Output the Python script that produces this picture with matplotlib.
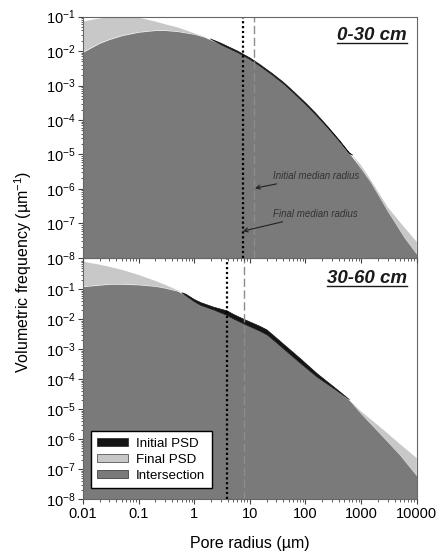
import numpy as np
import matplotlib
matplotlib.use("Agg")
import matplotlib.pyplot as plt
from matplotlib.patches import Patch
from matplotlib.lines import Line2D
from matplotlib.ticker import LogLocator, NullFormatter

plt.rcParams['font.family'] = ['Liberation Sans', 'DejaVu Sans']
plt.rcParams['mathtext.default'] = 'regular'

# pore radius (um) and log10 volumetric frequency
r_top = [0.01, 0.02, 0.03, 0.05, 0.1, 0.2, 0.3, 0.5, 1, 1.5, 3, 6, 10, 15, 25,
         40, 60, 100, 150, 250, 400, 600, 1000, 1500, 3000, 6000, 10000]
ini_top = [-2.03, -1.77, -1.66, -1.55, -1.45, -1.40, -1.40, -1.43, -1.51, -1.59,
           -1.76, -1.99, -2.19, -2.38, -2.64, -2.90, -3.16, -3.50, -3.79, -4.19,
           -4.58, -4.94, -5.42, -5.82, -6.65, -7.42, -7.90]
fin_top = [-1.14, -1.05, -1.02, -1.01, -1.03, -1.14, -1.22, -1.31, -1.48, -1.58,
           -1.80, -2.03, -2.23, -2.42, -2.68, -2.94, -3.20, -3.54, -3.83, -4.22,
           -4.60, -4.95, -5.32, -5.75, -6.53, -7.12, -7.54]

r_bot = [0.01, 0.02, 0.03, 0.05, 0.1, 0.2, 0.3, 0.5, 0.7, 1, 1.3, 2.2, 3.8, 5, 8,
         15, 20, 30, 40, 80, 160, 360, 630, 1000, 2500, 5000, 10000]
ini_bot = [-0.91, -0.86, -0.83, -0.83, -0.85, -0.90, -0.96, -1.06, -1.15, -1.33,
           -1.43, -1.58, -1.70, -1.82, -2.00, -2.22, -2.34, -2.62, -2.82, -3.30,
           -3.80, -4.32, -4.72, -5.15, -5.93, -6.53, -7.22]
fin_bot = [-0.08, -0.18, -0.25, -0.35, -0.52, -0.72, -0.85, -1.03, -1.20, -1.40,
           -1.52, -1.67, -1.85, -1.97, -2.15, -2.38, -2.50, -2.77, -2.97, -3.45,
           -3.91, -4.36, -4.71, -5.07, -5.68, -6.16, -6.63]

# median radii (um): initial, final
med_top = (12.1, 7.5)
med_bot = (7.8, 3.9)
depths = ['0-30 cm', '30-60 cm']

C_INI = '#141414'
C_FIN = '#c8c8c8'
C_INT = '#7a7a7a'


def draw_panel(ax, r, ini, fin, med, ylim):
    r = np.array(r)
    yi = 10 ** np.array(ini)
    yf = 10 ** np.array(fin)
    lo = np.minimum(yi, yf)
    ax.fill_between(r, 1e-12, lo, color=C_INT, lw=0)
    ax.fill_between(r, yf, yi, where=yi >= yf, interpolate=True, color=C_INI, lw=0.5,
                    edgecolor=C_INI)
    ax.fill_between(r, yi, yf, where=yf >= yi, interpolate=True, color=C_FIN, lw=0)
    ax.axvline(med[0], color='#8c8c8c', lw=1.0, ls=(0, (6, 2.5)))
    ax.axvline(med[1], color='black', lw=1.6, ls=(0, (1, 1.2)))
    ax.set_xscale('log')
    ax.set_yscale('log')
    ax.set_xlim(0.01, 10000)
    ax.set_yticks([10.0 ** k for k in range(-8, 0)])
    ax.yaxis.set_minor_locator(LogLocator(base=10, subs=np.arange(2, 10), numticks=20))
    ax.yaxis.set_minor_formatter(NullFormatter())
    ax.xaxis.set_minor_locator(LogLocator(base=10, subs=np.arange(2, 10), numticks=20))
    ax.xaxis.set_minor_formatter(NullFormatter())
    ax.set_ylim(*ylim)
    ax.tick_params(which='major', direction='out', length=3.5, width=0.8,
                   labelsize=10.5, color='#444444', pad=2)
    ax.tick_params(which='minor', direction='out', length=1.8, width=0.6, color='#444444')
    for s in ax.spines.values():
        s.set_color('#666666')
        s.set_linewidth(0.8)


fig = plt.figure(figsize=(4.41, 5.56), dpi=100)
ax1 = fig.add_axes([0.188, 0.5365, 0.757, 0.4335])
ax2 = fig.add_axes([0.188, 0.102, 0.757, 0.4345])
ax1.set_zorder(3)

draw_panel(ax1, r_top, ini_top, fin_top, med_top, (1e-8, 1e-1))
draw_panel(ax2, r_bot, ini_bot, fin_bot, med_bot, (1e-8, 10 ** 0.053))
ax1.tick_params(axis='x', labelbottom=False)
ax2.set_xticks([0.01, 0.1, 1, 10, 100, 1000, 10000])
ax2.set_xticklabels(['0.01', '0.1', '1', '10', '100', '1000', '10000'])

arrow = dict(arrowstyle='->', color='#222222', lw=0.8, shrinkA=0, shrinkB=0)
ax1.annotate('Initial median radius', xy=(12.4, 10 ** -5.98), xytext=(26, 10 ** -5.63),
             fontsize=7, style='italic', color='#333333', va='center', ha='left',
             arrowprops=arrow)
ax1.annotate('Final median radius', xy=(7.5, 10 ** -7.23), xytext=(26, 10 ** -6.73),
             fontsize=7, style='italic', color='#333333', va='center', ha='left',
             arrowprops=arrow)

titles = []
for ax, lab, y in [(ax1, depths[0], 0.903), (ax2, depths[1], 0.8965)]:
    t = ax.text(0.971, y, lab, transform=ax.transAxes, ha='right', va='baseline',
                fontsize=13.5, fontweight='bold', style='italic', color='#1a1a1a')
    titles.append(t)

ax2.legend(handles=[Patch(facecolor=C_INI, edgecolor='#333333', lw=0.6, label='Initial PSD'),
                    Patch(facecolor=C_FIN, edgecolor='#555555', lw=0.6, label='Final PSD'),
                    Patch(facecolor=C_INT, edgecolor='#444444', lw=0.6, label='Intersection')],
           loc='lower left', bbox_to_anchor=(0.023, 0.046), borderaxespad=0,
           fancybox=False, edgecolor='black', framealpha=1, fontsize=9.6,
           handlelength=2.3, handleheight=0.6, handletextpad=0.6, labelspacing=0.3,
           borderpad=0.5)

fig.text(0.053, 0.511, 'Volumetric frequency (µm$^{-1}$)', rotation=90,
         ha='center', va='center', fontsize=11.5)
fig.text(0.567, 0.023, 'Pore radius (µm)', ha='center', va='center', fontsize=11.5)

# underline the depth labels
fig.canvas.draw()
inv = fig.transFigure.inverted()
for t in titles:
    bb = t.get_window_extent()
    (x0, y0), (x1, _) = inv.transform([(bb.x0, bb.y0 + 1.2), (bb.x1, bb.y0)])
    fig.add_artist(Line2D([x0, x1], [y0, y0], color='#1a1a1a', lw=1.0, zorder=10))

fig.savefig('out.png', dpi=100)
